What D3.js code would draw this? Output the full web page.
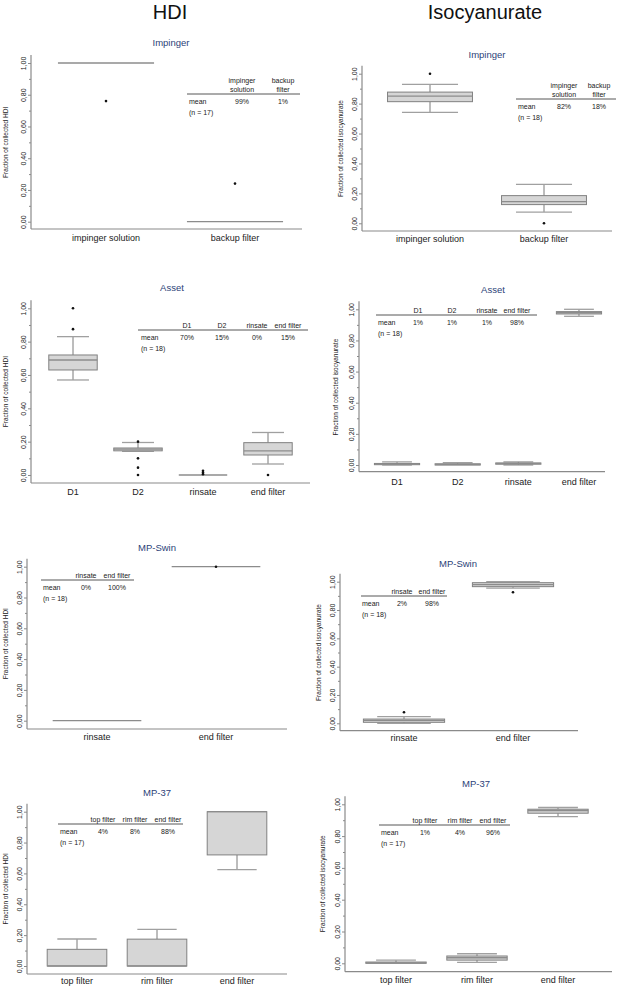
<!DOCTYPE html>
<html><head><meta charset="utf-8">
<script src="https://cdn.jsdelivr.net/npm/d3@7"></script>
<style>
body{margin:0;background:#fff;}
svg{display:block;font-family:Arial,"Liberation Sans",sans-serif;}
</style></head>
<body>
<svg id="chart" width="621" height="987"></svg>
<script>
// ---------- DATA ----------
const columnTitles = ["HDI", "Isocyanurate"];
const yTickValues = [0, 0.2, 0.4, 0.6, 0.8, 1.0];
const yMinorTicks = [0.1, 0.3, 0.5, 0.7, 0.9];

// box stats: [whiskerLow, q1, median, q3, whiskerHigh]
const hdiImpCats = ["impinger solution", "backup filter"];
const hdiImpBoxes = [[1, 1, 1, 1, 1], [0, 0, 0, 0, 0]];
const hdiImpOutliers = [[0.76], [0.24]];
const hdiImpHeaders = [["impinger", "solution"], ["backup", "filter"]];
const hdiImpMeans = ["99%", "1%"];
const hdiImpN = "(n = 17)";

const isoImpCats = ["impinger solution", "backup filter"];
const isoImpBoxes = [[0.742, 0.813, 0.85, 0.877, 0.928], [0.075, 0.125, 0.145, 0.185, 0.26]];
const isoImpOutliers = [[1.0], [0.0]];
const isoImpHeaders = [["impinger", "solution"], ["backup", "filter"]];
const isoImpMeans = ["82%", "18%"];
const isoImpN = "(n = 18)";

const hdiAssetCats = ["D1", "D2", "rinsate", "end filter"];
const hdiAssetBoxes = [[0.57, 0.63, 0.69, 0.72, 0.83], [0.142, 0.145, 0.155, 0.162, 0.195], [0, 0, 0, 0, 0], [0.066, 0.12, 0.145, 0.194, 0.255]];
const hdiAssetOutliers = [[1.0, 0.875], [0.2, 0.1, 0.044, 0.0], [0.025, 0.015, 0.005], [0.0]];
const hdiAssetHeaders = [["D1"], ["D2"], ["rinsate"], ["end filter"]];
const hdiAssetMeans = ["70%", "15%", "0%", "15%"];
const hdiAssetN = "(n = 18)";

const isoAssetCats = ["D1", "D2", "rinsate", "end filter"];
const isoAssetBoxes = [[0, 0.002, 0.005, 0.01, 0.02], [0, 0.0, 0.003, 0.008, 0.015], [0, 0.005, 0.01, 0.013, 0.02], [0.955, 0.97, 0.978, 0.985, 1.0]];
const isoAssetOutliers = [[], [], [], []];
const isoAssetHeaders = [["D1"], ["D2"], ["rinsate"], ["end filter"]];
const isoAssetMeans = ["1%", "1%", "1%", "98%"];
const isoAssetN = "(n = 18)";

const hdiSwinCats = ["rinsate", "end filter"];
const hdiSwinBoxes = [[0, 0, 0, 0, 0], [1, 1, 1, 1, 1]];
const hdiSwinOutliers = [[], [1.0]];
const hdiSwinHeaders = [["rinsate"], ["end filter"]];
const hdiSwinMeans = ["0%", "100%"];
const hdiSwinN = "(n = 18)";

const isoSwinCats = ["rinsate", "end filter"];
const isoSwinBoxes = [[0.0, 0.007, 0.02, 0.03, 0.047], [0.955, 0.965, 0.98, 0.993, 1.0]];
const isoSwinOutliers = [[0.078], [0.925]];
const isoSwinHeaders = [["rinsate"], ["end filter"]];
const isoSwinMeans = ["2%", "98%"];
const isoSwinN = "(n = 18)";

const hdiMp37Cats = ["top filter", "rim filter", "end filter"];
const hdiMp37Boxes = [[0, 0, 0, 0.108, 0.175], [0, 0, 0, 0.174, 0.237], [0.625, 0.72, 1.0, 1.0, 1.0]];
const hdiMp37Outliers = [[], [], []];
const hdiMp37Headers = [["top filter"], ["rim filter"], ["end filter"]];
const hdiMp37Means = ["4%", "8%", "88%"];
const hdiMp37N = "(n = 17)";

const isoMp37Cats = ["top filter", "rim filter", "end filter"];
const isoMp37Boxes = [[0, 0, 0.003, 0.008, 0.02], [0.006, 0.02, 0.035, 0.046, 0.06], [0.922, 0.944, 0.96, 0.969, 0.98]];
const isoMp37Outliers = [[], [], []];
const isoMp37Headers = [["top filter"], ["rim filter"], ["end filter"]];
const isoMp37Means = ["1%", "4%", "96%"];
const isoMp37N = "(n = 17)";

// ---------- LAYOUT ----------
const panels = [
  {title: "Impinger", ylab: "Fraction of collected HDI", cats: hdiImpCats, boxes: hdiImpBoxes, out: hdiImpOutliers, heads: hdiImpHeaders, means: hdiImpMeans, n: hdiImpN,
   ax: 31, ar: 302, axisY: 229, yTop: 63, yBot: 221.7, band: [41.5, 299.5], tx: 171, ty: 42, catY: 241, ylx: 7.5,
   tab: {x0: 187, x1: 300, y: 94, cols: [242, 283], lx: 189}},
  {title: "Impinger", ylab: "Fraction of collected isocyanurate", cats: isoImpCats, boxes: isoImpBoxes, out: isoImpOutliers, heads: isoImpHeaders, means: isoImpMeans, n: isoImpN,
   ax: 362, ar: 612, axisY: 231, yTop: 73.7, yBot: 223.3, band: [373, 601], tx: 487, ty: 54, catY: 242, ylx: 342.5,
   tab: {x0: 516, x1: 616, y: 99, cols: [564, 599], lx: 518}},
  {title: "Asset", ylab: "Fraction of collected HDI", cats: hdiAssetCats, boxes: hdiAssetBoxes, out: hdiAssetOutliers, heads: hdiAssetHeaders, means: hdiAssetMeans, n: hdiAssetN,
   ax: 31, ar: 310, axisY: 483, yTop: 308.3, yBot: 475, band: [40.5, 300.5], tx: 172, ty: 287, catY: 495, ylx: 7.5,
   tab: {x0: 138, x1: 308, y: 330, cols: [187, 222, 257, 288], lx: 141}},
  {title: "Asset", ylab: "Fraction of collected isocyanurate", cats: isoAssetCats, boxes: isoAssetBoxes, out: isoAssetOutliers, heads: isoAssetHeaders, means: isoAssetMeans, n: isoAssetN,
   ax: 359, ar: 605, axisY: 471.7, yTop: 309.3, yBot: 465, band: [366.7, 609.3], tx: 493, ty: 289, catY: 485, ylx: 337.5,
   tab: {x0: 376, x1: 537, y: 315, cols: [418, 452, 487, 517], lx: 378}},
  {title: "MP-Swin", ylab: "Fraction of collected HDI", cats: hdiSwinCats, boxes: hdiSwinBoxes, out: hdiSwinOutliers, heads: hdiSwinHeaders, means: hdiSwinMeans, n: hdiSwinN,
   ax: 27, ar: 287, axisY: 729, yTop: 566.7, yBot: 720.7, band: [37.5, 275.5], tx: 157, ty: 547, catY: 740, ylx: 7.5,
   tab: {x0: 41, x1: 134, y: 580, cols: [86, 117], lx: 43}},
  {title: "MP-Swin", ylab: "Fraction of collected isocyanurate", cats: isoSwinCats, boxes: isoSwinBoxes, out: isoSwinOutliers, heads: isoSwinHeaders, means: isoSwinMeans, n: isoSwinN,
   ax: 340, ar: 578, axisY: 730.7, yTop: 581.7, yBot: 723.3, band: [349.5, 567.5], tx: 458, ty: 563, catY: 741, ylx: 320.5,
   tab: {x0: 361, x1: 447, y: 596, cols: [402, 432], lx: 362}},
  {title: "MP-37", ylab: "Fraction of collected HDI", cats: hdiMp37Cats, boxes: hdiMp37Boxes, out: hdiMp37Outliers, heads: hdiMp37Headers, means: hdiMp37Means, n: hdiMp37N,
   ax: 27, ar: 287, axisY: 974, yTop: 811.7, yBot: 966, band: [37, 277], tx: 157, ty: 792, catY: 984, ylx: 7.5,
   tab: {x0: 58, x1: 183, y: 824, cols: [103, 135, 168], lx: 60}},
  {title: "MP-37", ylab: "Fraction of collected isocyanurate", cats: isoMp37Cats, boxes: isoMp37Boxes, out: isoMp37Outliers, heads: isoMp37Headers, means: isoMp37Means, n: isoMp37N,
   ax: 345, ar: 612, axisY: 971.7, yTop: 804.3, yBot: 963.3, band: [355.5, 598.5], tx: 476, ty: 783, catY: 983, ylx: 324.5,
   tab: {x0: 379, x1: 510, y: 825, cols: [425, 460, 493], lx: 381}}
];

const svg = d3.select("#chart");
const textCol = "#222";
const axisCol = "#8a8a8a";

// column headings
const headX = d3.scalePoint().domain(columnTitles).range([170, 485]);
svg.selectAll("text.colhead").data(columnTitles).join("text")
  .attr("class", "colhead")
  .attr("x", d => headX(d)).attr("y", 19)
  .attr("text-anchor", "middle")
  .attr("font-size", 20).attr("fill", "#111")
  .text(d => d);

const fmt = d => d3.format(".2f")(d).replace(".", ",");

panels.forEach(p => {
  const g = svg.append("g");
  const x = d3.scaleBand().domain(p.cats).range(p.band).paddingInner(0).paddingOuter(0);
  const y = d3.scaleLinear().domain([0, 1]).range([p.yBot, p.yTop]);
  const bw = x.bandwidth() * 0.745;
  const cw = bw * 0.66;

  // title
  g.append("text").attr("x", p.tx).attr("y", p.ty + 3.5)
    .attr("text-anchor", "middle").attr("font-size", 9.5).attr("fill", "#2c3f78")
    .text(p.title);

  // y axis major
  const ya = g.append("g").attr("transform", `translate(${p.ax},0)`)
    .call(d3.axisLeft(y).tickValues(yTickValues).tickFormat(fmt).tickSize(3).tickPadding(0));
  ya.select(".domain").remove();
  ya.selectAll(".tick line").attr("stroke", axisCol);
  ya.selectAll(".tick text")
    .attr("transform", "rotate(-90)")
    .attr("x", 0).attr("y", -5).attr("dy", 0)
    .attr("text-anchor", "middle")
    .attr("font-size", 7).attr("fill", textCol)
    .attr("font-family", "Arial, 'Liberation Sans', sans-serif");
  // minor ticks
  const ym = g.append("g").attr("transform", `translate(${p.ax},0)`)
    .call(d3.axisLeft(y).tickValues(yMinorTicks).tickFormat("").tickSize(2));
  ym.select(".domain").remove();
  ym.selectAll(".tick line").attr("stroke", axisCol);

  // axis lines
  g.append("line").attr("x1", p.ax).attr("x2", p.ax).attr("y1", p.axisY).attr("y2", y(1) - 8)
    .attr("stroke", axisCol).attr("stroke-width", 1.2);
  g.append("line").attr("x1", p.ax).attr("x2", p.ar).attr("y1", p.axisY).attr("y2", p.axisY)
    .attr("stroke", axisCol).attr("stroke-width", 1.2);

  // y label
  g.append("text")
    .attr("transform", `translate(${p.ylx},${(y(0) + y(1)) / 2}) rotate(-90)`)
    .attr("text-anchor", "middle").attr("font-size", 6.5).attr("fill", textCol)
    .text(p.ylab);

  // category labels
  g.selectAll("text.cat").data(p.cats).join("text")
    .attr("class", "cat")
    .attr("x", d => x(d) + x.bandwidth() / 2).attr("y", p.catY)
    .attr("text-anchor", "middle").attr("font-size", 9).attr("fill", textCol)
    .text(d => d);

  // boxes
  p.cats.forEach((c, i) => {
    const [wl, q1, md, q3, wh] = p.boxes[i];
    const cx = x(c) + x.bandwidth() / 2;
    const bg = g.append("g");
    // whiskers
    bg.append("line").attr("x1", cx).attr("x2", cx).attr("y1", y(q3)).attr("y2", y(wh)).attr("stroke", "#7a7a7a");
    bg.append("line").attr("x1", cx).attr("x2", cx).attr("y1", y(q1)).attr("y2", y(wl)).attr("stroke", "#7a7a7a");
    if (wh > q3) bg.append("line").attr("x1", cx - cw / 2).attr("x2", cx + cw / 2).attr("y1", y(wh)).attr("y2", y(wh)).attr("stroke", "#a0a0a0").attr("stroke-width", 1.3);
    if (wl < q1) bg.append("line").attr("x1", cx - cw / 2).attr("x2", cx + cw / 2).attr("y1", y(wl)).attr("y2", y(wl)).attr("stroke", "#a0a0a0").attr("stroke-width", 1.3);
    // box
    if (q3 > q1) {
      bg.append("rect").attr("x", cx - bw / 2).attr("width", bw)
        .attr("y", y(q3)).attr("height", y(q1) - y(q3))
        .attr("fill", "#d6d6d6").attr("stroke", "#808080").attr("stroke-width", 1);
    }
    // median
    bg.append("line").attr("x1", cx - bw / 2).attr("x2", cx + bw / 2).attr("y1", y(md)).attr("y2", y(md))
      .attr("stroke", "#8c8c8c").attr("stroke-width", 1.3);
    // outliers
    bg.selectAll("circle").data(p.out[i]).join("circle")
      .attr("cx", cx).attr("cy", d => y(d)).attr("r", 1.3).attr("fill", "#111");
  });

  // table
  const t = p.tab;
  g.append("line").attr("x1", t.x0).attr("x2", t.x1).attr("y1", t.y).attr("y2", t.y).attr("stroke", "#444").attr("stroke-width", 0.9);
  p.heads.forEach((h, i) => {
    h.forEach((line, j) => {
      g.append("text").attr("x", t.cols[i]).attr("y", t.y - 2.5 - (h.length - 1 - j) * 9)
        .attr("text-anchor", "middle").attr("font-size", 7).attr("fill", textCol).text(line);
    });
  });
  g.append("text").attr("x", t.lx).attr("y", t.y + 9.5).attr("font-size", 7).attr("fill", textCol).text("mean");
  g.append("text").attr("x", t.lx).attr("y", t.y + 21).attr("font-size", 7).attr("fill", textCol).text(p.n);
  g.selectAll("text.mv").data(p.means).join("text").attr("class", "mv")
    .attr("x", (d, i) => t.cols[i]).attr("y", t.y + 9.5)
    .attr("text-anchor", "middle").attr("font-size", 7).attr("fill", textCol).text(d => d);
});
</script>
</body></html>
